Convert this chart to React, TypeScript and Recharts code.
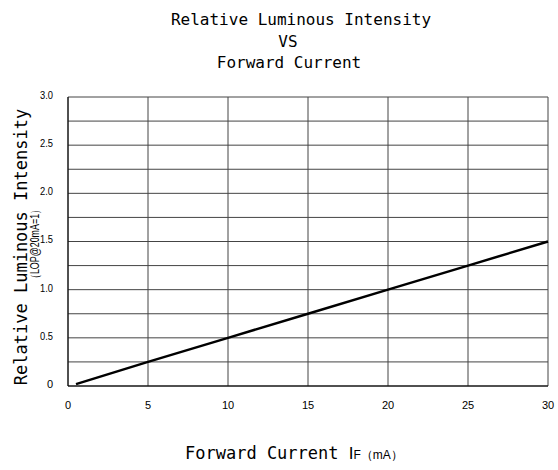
import React from "react";
import { LineChart, Line, XAxis, YAxis, CartesianGrid } from "recharts";

const current = [0.5, 5, 10, 15, 20, 25, 30];
const intensity = [0.02, 0.25, 0.5, 0.75, 1.0, 1.25, 1.5];
const xTicks = [0, 5, 10, 15, 20, 25, 30];
const yTicks = [0, 0.25, 0.5, 0.75, 1, 1.25, 1.5, 1.75, 2, 2.25, 2.5, 2.75, 3];

const data = current.map((c, i) => ({ c, v: intensity[i] }));

const MONO = "'DejaVu Sans Mono', monospace";
const SANS = "'Liberation Sans', Arial, sans-serif";

function YTick(props: any) {
  const { x, y, payload } = props;
  const v = payload.value;
  if (Math.round(v * 100) % 50 !== 0) return null;
  const label = v === 0 ? "0" : v.toFixed(1);
  const squeeze = label.length > 1 ? { textLength: 13, lengthAdjust: "spacingAndGlyphs" } : {};
  return (
    <text x={x} y={y - 2} dy="0.355em" textAnchor="end" fontSize={11} fontFamily={SANS} fill="#000" {...squeeze}>
      {label}
    </text>
  );
}

export default function App() {
  return (
    <div style={{ position: "absolute", left: 0, top: 0, width: 558, height: 470, background: "#fff" }}>
      <LineChart width={558} height={470} data={data} margin={{ top: 97, right: 10, left: 0, bottom: 0 }}>
        <CartesianGrid stroke="#444" strokeWidth={1} />
        <XAxis
          dataKey="c"
          type="number"
          domain={[0, 30]}
          ticks={xTicks}
          height={84}
          tickSize={0}
          tickMargin={15}
          axisLine={{ stroke: "#000" }}
          tick={{ fontSize: 11, fontFamily: SANS, fill: "#000" }}
        />
        <YAxis
          type="number"
          domain={[0, 3]}
          ticks={yTicks}
          width={68}
          tickSize={0}
          tickMargin={15}
          axisLine={{ stroke: "#000" }}
          tick={<YTick />}
          interval={0}
        />
        <Line dataKey="v" stroke="#000" strokeWidth={2.5} dot={false} isAnimationActive={false} type="linear" />
      </LineChart>
      <svg width={558} height={470} style={{ position: "absolute", left: 0, top: 0, pointerEvents: "none" }}>
        <g fontFamily={MONO} fill="#000">
          <text x={301} y={25} fontSize={16} textAnchor="middle">Relative Luminous Intensity</text>
          <text x={288} y={47} fontSize={16} textAnchor="middle">VS</text>
          <text x={289} y={68} fontSize={16} textAnchor="middle">Forward Current</text>
          <text x={27} y={247} fontSize={17} textAnchor="middle" transform="rotate(-90 27 247)">
            Relative Luminous Intensity
          </text>
          <text x={185} y={459} fontSize={17}>
            Forward Current <tspan fontFamily={SANS}>I</tspan>
            <tspan fontSize={12} fontFamily={SANS}>F（mA）</tspan>
          </text>
        </g>
        <text
          x={39}
          y={244}
          fontSize={12}
          fontFamily={SANS}
          textAnchor="middle"
          transform="rotate(-90 39 244)"
          textLength={78}
          lengthAdjust="spacingAndGlyphs"
        >
          （LOP@20mA=1）
        </text>
      </svg>
    </div>
  );
}
